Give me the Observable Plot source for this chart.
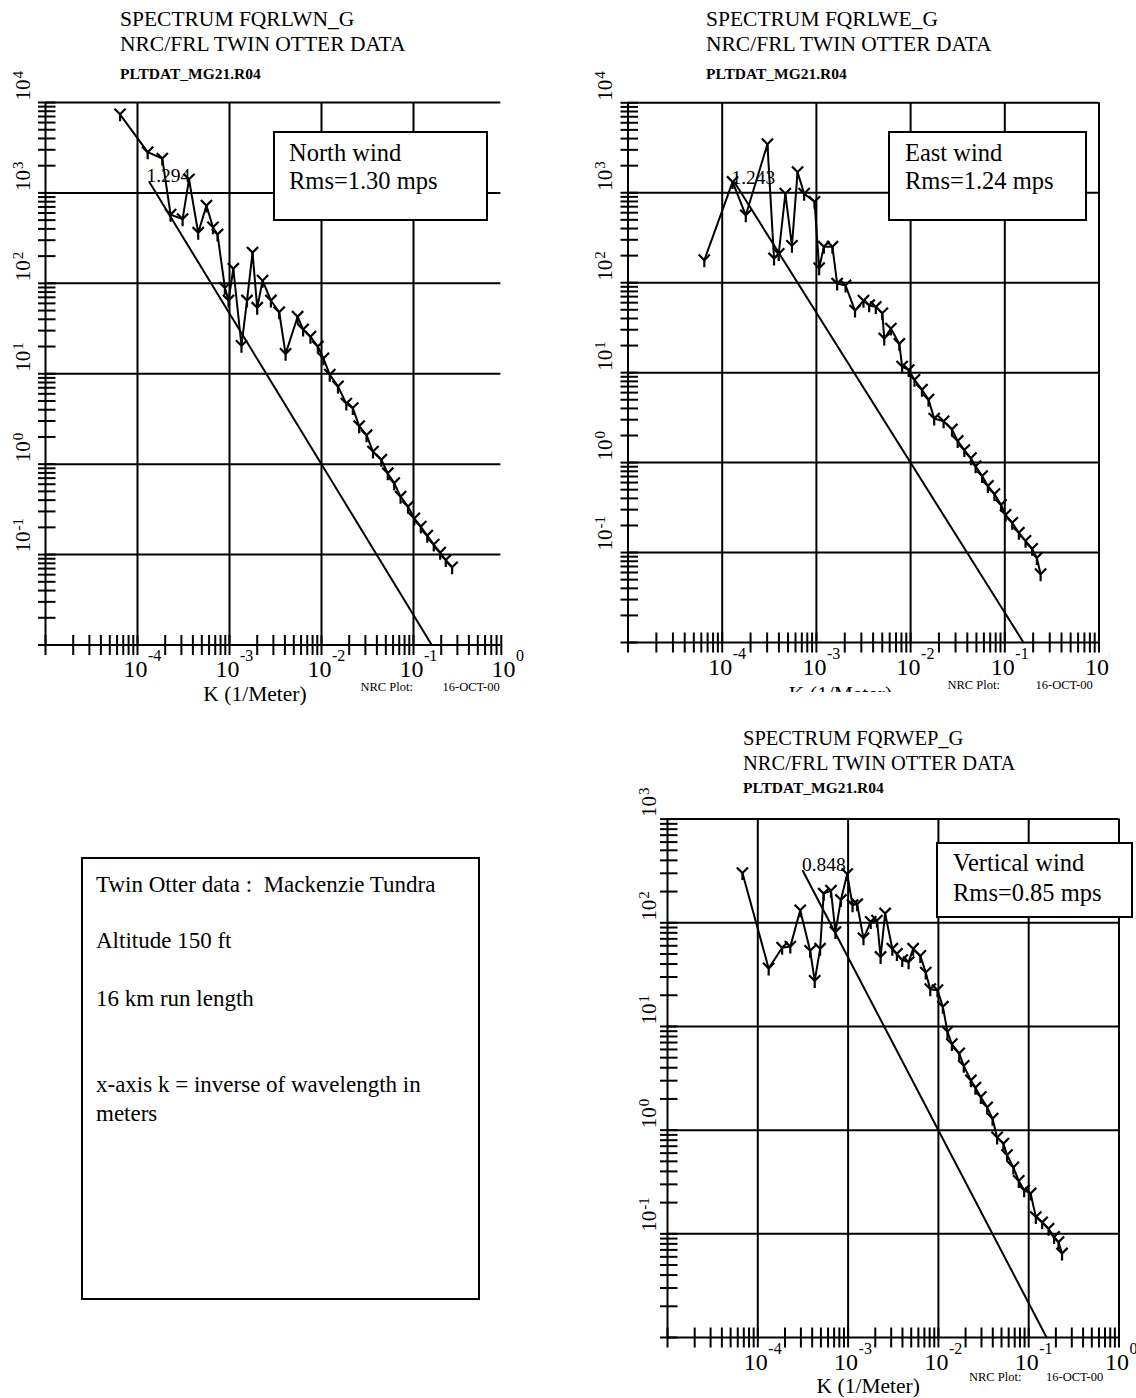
<!DOCTYPE html>
<html><head><meta charset="utf-8">
<script src="https://cdn.jsdelivr.net/npm/d3@7"></script>
<script src="https://cdn.jsdelivr.net/npm/@observablehq/plot@0.6"></script>
<style>
body{margin:0;background:#fff;}
#root{position:relative;width:1136px;height:1398px;overflow:hidden;font-family:"Liberation Serif","Times New Roman",serif;color:#000;background:#fff;}
#root svg{position:absolute;}
.abs{position:absolute;white-space:pre;line-height:1;}
.box{position:absolute;border:2px solid #000;background:#fff;box-sizing:border-box;}
</style></head><body><div id="root"></div>
<script>
// ---------------- data ----------------
const northK = [6.46e-5,1.29e-4,1.86e-4,2.29e-4,3.09e-4,3.63e-4,4.57e-4,5.62e-4,6.61e-4,7.41e-4,8.91e-4,9.77e-4,1.10e-3,1.35e-3,1.55e-3,1.78e-3,2.00e-3,2.29e-3,2.82e-3,3.47e-3,4.07e-3,5.50e-3,6.31e-3,7.59e-3,9.12e-3,1.05e-2,1.23e-2,1.51e-2,1.86e-2,2.19e-2,2.57e-2,3.09e-2,3.63e-2,4.47e-2,5.25e-2,6.17e-2,7.24e-2,8.71e-2,0.102,0.120,0.141,0.166,0.195,0.224,0.263];
const northS = [7.4e3,2.82e3,2.40e3,575,513,1413,363,724,417,347,89.1,64.6,145,20.4,64.6,219,53.7,107,64.6,47.9,16.6,42.7,30.9,25.7,20.0,14.8,9.77,7.24,4.68,4.17,2.63,2.09,1.38,1.12,0.794,0.617,0.437,0.339,0.251,0.204,0.162,0.129,0.105,0.0871,0.0724];

const eastK = [6.46e-5,1.29e-4,1.78e-4,3.02e-4,3.55e-4,3.98e-4,4.68e-4,5.50e-4,6.31e-4,7.41e-4,9.55e-4,1.07e-3,1.20e-3,1.48e-3,1.66e-3,2.04e-3,2.57e-3,3.16e-3,3.63e-3,4.27e-3,5.01e-3,5.25e-3,6.17e-3,7.59e-3,8.13e-3,9.55e-3,1.10e-2,1.32e-2,1.55e-2,1.78e-2,2.24e-2,2.75e-2,3.16e-2,3.72e-2,4.37e-2,4.90e-2,5.75e-2,6.61e-2,7.76e-2,9.12e-2,0.102,0.120,0.141,0.166,0.195,0.219,0.240];
const eastS = [178,1318,562,3467,186,209,977,257,1698,977,794,145,251,251,97.7,93.3,49.0,63.1,56.2,53.7,45.7,24.0,30.9,20.9,11.7,10.7,8.32,6.46,5.01,3.09,2.88,2.34,1.74,1.38,1.12,0.912,0.708,0.550,0.447,0.339,0.263,0.214,0.166,0.135,0.110,0.0871,0.0575];

const vertK = [6.76e-5,1.32e-4,1.86e-4,2.29e-4,2.95e-4,3.80e-4,4.27e-4,4.90e-4,5.37e-4,6.46e-4,7.24e-4,8.32e-4,9.77e-4,1.12e-3,1.26e-3,1.48e-3,1.78e-3,2.09e-3,2.29e-3,2.57e-3,3.09e-3,3.47e-3,3.98e-3,4.68e-3,5.25e-3,6.31e-3,7.24e-3,8.13e-3,9.77e-3,1.12e-2,1.26e-2,1.41e-2,1.70e-2,1.91e-2,2.29e-2,2.57e-2,2.95e-2,3.47e-2,3.98e-2,4.47e-2,5.25e-2,5.75e-2,6.76e-2,7.76e-2,8.91e-2,0.105,0.120,0.141,0.166,0.191,0.214,0.234];
const vertS = [302,36.3,57.5,58.9,132,53.7,27.5,56.2,191,204,81.3,166,295,148,151,70.8,102,105,46.8,123,56.2,50.1,43.7,41.7,56.2,47.9,33.1,22.9,22.4,15.5,8.91,6.76,5.50,4.17,3.02,2.57,2.09,1.66,1.29,0.851,0.741,0.575,0.437,0.324,0.263,0.245,0.145,0.129,0.112,0.0933,0.0832,0.0646];

// -5/3 reference lines (end points) and their labels
const northRefK = [1.35e-4, 0.158], northRefS = [1309, 0.01], northRefLabel = "1.294";
const eastRefK  = [1.35e-4, 0.158], eastRefS  = [1309, 0.01], eastRefLabel  = "1.243";
const vertRefK  = [3.16e-4, 0.158], vertRefS  = [316, 0.01],  vertRefLabel  = "0.848";

// axis tick labels
const xLabelVals = [1e-4, 1e-3, 1e-2, 1e-1, 1e0];
const xLabelExps = ["-4", "-3", "-2", "-1", "0"];
const yLabelVals12 = [1e4, 1e3, 1e2, 1e1, 1e0, 1e-1];
const yLabelExps12 = ["4", "3", "2", "1", "0", "-1"];
const yLabelVals3 = [1e3, 1e2, 1e1, 1e0, 1e-1];
const yLabelExps3 = ["3", "2", "1", "0", "-1"];
const mantissas = [1,2,3,4,5,6,7,8,9];

const titles = {
  north: ["SPECTRUM FQRLWN_G", "NRC/FRL TWIN OTTER DATA", "PLTDAT_MG21.R04"],
  east:  ["SPECTRUM FQRLWE_G", "NRC/FRL TWIN OTTER DATA", "PLTDAT_MG21.R04"],
  vert:  ["SPECTRUM FQRWEP_G", "NRC/FRL TWIN OTTER DATA", "PLTDAT_MG21.R04"]
};
const boxes = {
  north: ["North wind", "Rms=1.30 mps"],
  east:  ["East wind", "Rms=1.24 mps"],
  vert:  ["Vertical wind", "Rms=0.85 mps"]
};
const notes = ["Twin Otter data :  Mackenzie Tundra", "Altitude 150 ft", "16 km run length", "x-axis k = inverse of wavelength in", "meters"];
const xTitle = "K (1/Meter)";
const stampA = "NRC Plot:", stampB = "16-OCT-00";

// ---------------- symbols ----------------
const wye = {draw(ctx, size) {
  const r = Math.sqrt(size / Math.PI);
  ctx.moveTo(0, 0); ctx.lineTo(0, r);
  ctx.moveTo(0, 0); ctx.lineTo(-0.8 * r, -0.8 * r);
  ctx.moveTo(0, 0); ctx.lineTo(0.8 * r, -0.8 * r);
}};
const hTick = {draw(ctx) { ctx.moveTo(-7.5, 0); ctx.lineTo(10, 0); }};
const vTick = {draw(ctx) { ctx.moveTo(0, -10); ctx.lineTo(0, 10); }};

const root = document.getElementById("root");

function makePanel(c) {
  const xTicks = [], yTicks = [];
  for (const e of c.xTickExps) for (const m of mantissas) xTicks.push(m * Math.pow(10, e));
  if (c.rightBorder) xTicks.push(1);
  for (const e of c.yTickExps) for (const m of mantissas) yTicks.push(m * Math.pow(10, e));
  yTicks.push(c.yDomain[1]);
  const data = c.k.map((k, i) => ({k, s: c.s[i]}));
  const ref = c.refK.map((k, i) => ({k, s: c.refS[i]}));
  const xLab = xLabelVals.map((v, i) => ({v, e: xLabelExps[i]}));
  const yLab = c.yLabVals.map((v, i) => ({v, e: c.yLabExps[i]}));
  const xmin = 1e-5;
  const plot = Plot.plot({
    width: c.width, height: c.height,
    marginLeft: c.mLeft, marginRight: c.mRight, marginTop: c.mTop, marginBottom: c.mBottom,
    x: {type: "log", domain: [1e-5, 1], axis: null},
    y: {type: "log", domain: c.yDomain, axis: null},
    style: {background: "transparent", overflow: c.clip ? "hidden" : "visible", fontFamily: "Liberation Serif, Times New Roman, serif", color: "black"},
    marks: [
      Plot.ruleY(c.yGrid, {y: d => d, x1: xmin, x2: c.xEnd, stroke: "black", strokeWidth: 2}),
      Plot.ruleX(c.xGrid, {x: d => d, y1: c.yDomain[0], y2: c.yDomain[1], stroke: "black", strokeWidth: 2}),
      Plot.dot(yTicks, {x: () => xmin, y: d => d, symbol: hTick, r: 5, fill: "none", stroke: "black", strokeWidth: 2}),
      Plot.dot(xTicks, {x: d => d, y: () => c.yDomain[0], symbol: vTick, r: 5, fill: "none", stroke: "black", strokeWidth: 2}),
      Plot.line(ref, {x: "k", y: "s", stroke: "black", strokeWidth: 2}),
      Plot.text([ref[0]], {x: "k", y: "s", text: () => c.refLabel, textAnchor: "start", lineAnchor: "bottom", dx: c.refDx, dy: c.refDy, fontSize: 19.5}),
      Plot.line(data, {x: "k", y: "s", stroke: "black", strokeWidth: 2}),
      Plot.dot(data, {x: "k", y: "s", symbol: wye, r: 7, fill: "none", stroke: "black", strokeWidth: 2.2}),
      Plot.text(xLab, {x: "v", frameAnchor: "bottom", text: () => "10", textAnchor: "middle", lineAnchor: "bottom", dx: -2, dy: 32, fontSize: 24}),
      Plot.text(xLab, {x: "v", frameAnchor: "bottom", text: "e", textAnchor: "start", lineAnchor: "bottom", dx: 10.5, dy: 16, fontSize: 16}),
      Plot.text(yLab, {y: "v", frameAnchor: "left", text: () => "10", rotate: -90, textAnchor: "start", lineAnchor: "bottom", dx: c.yLabDx, dy: -2, fontSize: 21}),
      Plot.text(yLab, {y: "v", frameAnchor: "left", text: "e", rotate: -90, textAnchor: "start", lineAnchor: "bottom", dx: c.yLabDx - 7, dy: -24, fontSize: 15}),
      Plot.text([xTitle], {frameAnchor: "bottom", text: d => d, lineAnchor: "bottom", dx: c.titleDx, dy: c.titleDy, fontSize: 21.5}),
      Plot.text([stampA], {frameAnchor: "bottom-right", text: d => d, textAnchor: "start", lineAnchor: "bottom", dx: c.stampDx, dy: c.stampDy, fontSize: 12.5}),
      Plot.text([stampB], {frameAnchor: "bottom-right", text: d => d, textAnchor: "start", lineAnchor: "bottom", dx: c.stampDx + c.stampGap, dy: c.stampDy, fontSize: 12.5})
    ]
  });
  plot.style.left = c.left + "px";
  plot.style.top = c.top + "px";
  root.appendChild(plot);
}

makePanel({
  left: 0, top: 40, width: 540, height: 670, mLeft: 45, mRight: 35, mTop: 62, mBottom: 65.5,
  yDomain: [1e-2, 1e4], xTickExps: [-5, -4, -3, -2, -1], yTickExps: [-2, -1, 0, 1, 2, 3],
  yGrid: [1e-2, 1e-1, 1e0, 1e1, 1e2, 1e3, 1e4], xGrid: [1e-5, 1e-4, 1e-3, 1e-2, 1e-1],
  xEnd: 0.891, rightBorder: false, clip: false,
  k: northK, s: northS, refK: northRefK, refS: northRefS, refLabel: northRefLabel, refDx: -3, refDy: 0,
  yLabVals: yLabelVals12, yLabExps: yLabelExps12, yLabDx: -16,
  titleDx: -20.5, titleDy: 55.5, stampDx: -145, stampDy: 46, stampGap: 82
});
makePanel({
  left: 560, top: 40, width: 550, height: 652, mLeft: 67.5, mRight: 11.5, mTop: 62.3, mBottom: 50,
  yDomain: [1e-2, 1e4], xTickExps: [-5, -4, -3, -2, -1], yTickExps: [-2, -1, 0, 1, 2, 3],
  yGrid: [1e-2, 1e-1, 1e0, 1e1, 1e2, 1e3, 1e4], xGrid: [1e-5, 1e-4, 1e-3, 1e-2, 1e-1, 1],
  xEnd: 1, rightBorder: true, clip: true,
  k: eastK, s: eastS, refK: eastRefK, refS: eastRefS, refLabel: eastRefLabel, refDx: -3, refDy: 2,
  yLabVals: yLabelVals12, yLabExps: yLabelExps12, yLabDx: -16,
  titleDx: -23, titleDy: 58, stampDx: -151.5, stampDy: 46, stampGap: 88
});
makePanel({
  left: 600, top: 790, width: 536, height: 608, mLeft: 67, mRight: 17.5, mTop: 28.6, mBottom: 61,
  yDomain: [1e-2, 1e3], xTickExps: [-5, -4, -3, -2, -1], yTickExps: [-2, -1, 0, 1, 2],
  yGrid: [1e-2, 1e-1, 1e0, 1e1, 1e2, 1e3], xGrid: [1e-5, 1e-4, 1e-3, 1e-2, 1e-1, 1],
  xEnd: 1, rightBorder: true, clip: false,
  k: vertK, s: vertS, refK: vertRefK, refS: vertRefS, refLabel: vertRefLabel, refDx: -1, refDy: 0,
  yLabVals: yLabelVals3, yLabExps: yLabelExps3, yLabDx: -12,
  titleDx: -25, titleDy: 55, stampDx: -150, stampDy: 43, stampGap: 77
});

// ---------------- HTML text ----------------
function addText(str, x, baseline, fs, extra) {
  const d = document.createElement("div");
  d.className = "abs";
  d.textContent = str;
  d.style.left = x + "px";
  d.style.top = (baseline - 0.84 * fs) + "px";
  d.style.fontSize = fs + "px";
  if (extra) Object.assign(d.style, extra);
  root.appendChild(d);
}
function addBox(x, y, w, h) {
  const d = document.createElement("div");
  d.className = "box";
  Object.assign(d.style, {left: x + "px", top: y + "px", width: w + "px", height: h + "px"});
  root.appendChild(d);
}
function addTitle(lines, x, b1, b2, b3, fs) {
  addText(lines[0], x, b1, fs);
  addText(lines[1], x, b2, fs);
  addText(lines[2], x, b3, 15.5, {fontWeight: "bold"});
}
addTitle(titles.north, 120, 27, 52, 79, 21.5);
addTitle(titles.east, 706, 27, 52, 79, 21.5);
addTitle(titles.vert, 743, 745, 770, 793, 20.5);

addBox(273, 131, 215, 90);
addText(boxes.north[0], 289, 162, 24.5);
addText(boxes.north[1], 289, 190, 24.5);
addBox(888, 131, 199, 90);
addText(boxes.east[0], 905, 162, 24.5);
addText(boxes.east[1], 905, 190, 24.5);
addBox(936, 842, 197, 76);
addText(boxes.vert[0], 953, 872, 24.5);
addText(boxes.vert[1], 953, 902, 24.5);

addBox(81, 857, 399, 443);
const noteBase = [892, 948, 1006, 1092, 1121];
notes.forEach((t, i) => addText(t, 96, noteBase[i], 23));
</script>
</body></html>
